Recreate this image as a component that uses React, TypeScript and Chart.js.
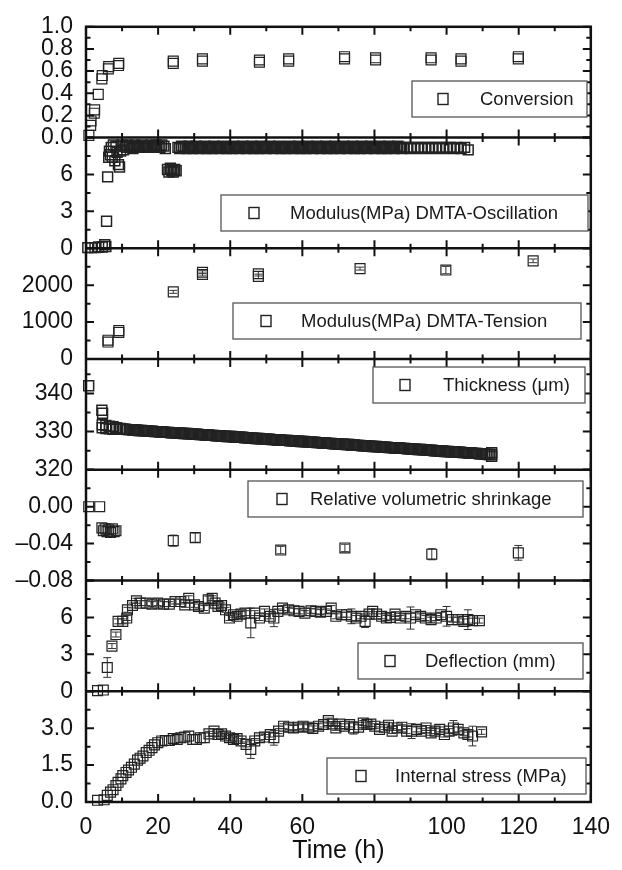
import React, { useEffect, useRef } from 'react';
import { Chart, registerables } from 'chart.js';

Chart.register(...registerables);

const FONT = '"Liberation Sans", Arial, Helvetica, sans-serif';

// ---------- shared x axis ----------
const xTicks = [0, 20, 40, 60, 80, 100, 120, 140];
const xHiddenLabels = [80];

// ---------- Panel 1: Conversion ----------
const convTime = [0.8, 1.3, 1.4, 2.3, 2.4, 3.4, 4.4, 4.5, 6.2, 6.3, 9.0, 9.1, 24.2, 24.2, 32.3, 32.3, 48.1, 48.1, 56.2, 56.2, 71.7, 71.7, 80.3, 80.3, 95.7, 95.7, 104.0, 104.0, 119.9, 119.9];
const convValue = [0.02, 0.11, 0.15, 0.22, 0.25, 0.39, 0.53, 0.56, 0.62, 0.64, 0.65, 0.67, 0.67, 0.69, 0.69, 0.71, 0.68, 0.70, 0.69, 0.71, 0.71, 0.73, 0.70, 0.72, 0.70, 0.72, 0.69, 0.71, 0.71, 0.73];
const convTicks = [0, 0.2, 0.4, 0.6, 0.8, 1.0];

// ---------- Panel 2: Modulus DMTA-Oscillation ----------
const oscEarlyTime = [0.5, 1.5, 2.5, 3.5, 4.5, 5.2, 5.5, 5.7, 6.0, 6.3, 6.5, 6.8, 7.0, 7.3, 7.6, 8.0, 8.3, 8.6, 9.0, 9.3, 9.6, 10.0, 10.4, 10.8, 11.2, 11.6, 12.0, 12.5, 13.0, 13.5, 14.0, 14.5, 15.0, 15.5, 16.0, 16.5, 17.0, 17.5, 18.0, 18.5, 19.0, 19.5, 20.0, 20.5, 21.0, 21.6, 22.0, 22.6, 23.0, 23.4, 23.8, 24.2, 24.6, 25.0];
const oscEarlyValue = [0.05, 0.05, 0.05, 0.1, 0.1, 0.3, 0.15, 2.2, 5.8, 7.4, 7.9, 7.6, 8.2, 7.4, 8.4, 7.1, 8.3, 7.8, 6.8, 6.6, 7.9, 8.4, 8.0, 8.3, 8.2, 8.4, 8.2, 8.3, 8.1, 8.4, 8.2, 8.3, 8.2, 8.4, 8.2, 8.3, 8.3, 8.2, 8.4, 8.3, 8.2, 8.4, 8.3, 8.2, 8.4, 8.3, 8.1, 6.4, 6.2, 6.5, 6.3, 6.2, 6.4, 6.3];
const oscBandTime = [
  25.5, 26, 26.5, 27, 27.5, 28, 28.5, 29, 29.5, 30, 30.5, 31, 31.5, 32, 32.5, 33, 33.5, 34, 34.5, 35,
  35.5, 36, 36.5, 37, 37.5, 38, 38.5, 39, 39.5, 40, 40.5, 41, 41.5, 42, 42.5, 43, 43.5, 44, 44.5, 45,
  45.5, 46, 46.5, 47, 47.5, 48, 48.5, 49, 49.5, 50, 50.5, 51, 51.5, 52, 52.5, 53, 53.5, 54, 54.5, 55,
  55.5, 56, 56.5, 57, 57.5, 58, 58.5, 59, 59.5, 60, 60.5, 61, 61.5, 62, 62.5, 63, 63.5, 64, 64.5, 65,
  65.5, 66, 66.5, 67, 67.5, 68, 68.5, 69, 69.5, 70, 70.5, 71, 71.5, 72, 72.5, 73, 73.5, 74, 74.5, 75,
  75.5, 76, 76.5, 77, 77.5, 78, 78.5, 79, 79.5, 80, 80.5, 81, 81.5, 82, 82.5, 83, 83.5, 84, 84.5, 85,
  85.5, 86, 86.5, 87, 87.5, 88,
  89, 90, 91, 92, 93, 94, 95, 96, 97, 98, 99, 100, 101, 102, 103, 104, 105, 106,
];
const oscBandValue = [
  8.2, 8.1, 8.3, 8.2, 8.2, 8.1, 8.3, 8.2, 8.1, 8.2, 8.3, 8.2, 8.1, 8.2, 8.2, 8.3, 8.1, 8.2, 8.2, 8.1,
  8.3, 8.2, 8.2, 8.1, 8.2, 8.3, 8.2, 8.1, 8.2, 8.2, 8.1, 8.3, 8.2, 8.2, 8.1, 8.2, 8.3, 8.2, 8.1, 8.2,
  8.2, 8.3, 8.1, 8.2, 8.2, 8.1, 8.3, 8.2, 8.2, 8.1, 8.2, 8.3, 8.2, 8.1, 8.2, 8.2, 8.3, 8.1, 8.2, 8.2,
  8.1, 8.2, 8.3, 8.2, 8.1, 8.2, 8.2, 8.3, 8.1, 8.2, 8.2, 8.1, 8.3, 8.2, 8.2, 8.1, 8.2, 8.3, 8.2, 8.1,
  8.2, 8.2, 8.3, 8.1, 8.2, 8.2, 8.1, 8.3, 8.2, 8.2, 8.1, 8.2, 8.3, 8.2, 8.1, 8.2, 8.2, 8.3, 8.1, 8.2,
  8.2, 8.1, 8.3, 8.2, 8.2, 8.1, 8.2, 8.3, 8.2, 8.1, 8.2, 8.2, 8.3, 8.1, 8.2, 8.2, 8.1, 8.3, 8.2, 8.2,
  8.1, 8.2, 8.3, 8.2, 8.1, 8.2,
  8.2, 8.1, 8.2, 8.2, 8.1, 8.2, 8.2, 8.1, 8.2, 8.2, 8.1, 8.2, 8.2, 8.1, 8.2, 8.1, 8.2, 8.0,
];
const oscTime = [...oscEarlyTime, ...oscBandTime];
const oscValue = [...oscEarlyValue, ...oscBandValue];
const oscTicks = [0, 3, 6];

// ---------- Panel 3: Modulus DMTA-Tension ----------
const tenTime = [6.1, 6.1, 9.1, 9.1, 24.2, 32.3, 32.3, 47.8, 47.8, 76.0, 99.8, 124.0];
const tenValue = [460, 510, 720, 770, 1820, 2290, 2350, 2240, 2310, 2450, 2410, 2660];
const tenErr = [0, 0, 0, 0, 40, 40, 40, 60, 60, 40, 100, 50];
const tenTicks = [0, 1000, 2000];

// ---------- Panel 4: Thickness ----------
const thickEarlyTime = [0.75, 4.4, 4.6, 4.5, 4.5, 5.5, 5.5, 6.5, 6.5, 7.5, 7.5, 8.5, 9.5, 10.0];
const thickEarlyValue = [342, 335.6, 334.8, 331.8, 331.0, 331.6, 330.8, 331.4, 330.7, 331.3, 330.6, 331.0, 330.8, 330.7];
const thickBandTime = [
  10.5, 11, 11.5, 12, 12.5, 13, 13.5, 14, 14.5, 15, 15.5, 16, 16.5, 17, 17.5, 18, 18.5, 19, 19.5, 20,
  20.5, 21, 21.5, 22, 22.5, 23, 23.5, 24, 24.5, 25, 25.5, 26, 26.5, 27, 27.5, 28, 28.5, 29, 29.5, 30,
  30.5, 31, 31.5, 32, 32.5, 33, 33.5, 34, 34.5, 35, 35.5, 36, 36.5, 37, 37.5, 38, 38.5, 39, 39.5, 40,
  40.5, 41, 41.5, 42, 42.5, 43, 43.5, 44, 44.5, 45, 45.5, 46, 46.5, 47, 47.5, 48, 48.5, 49, 49.5, 50,
  50.5, 51, 51.5, 52, 52.5, 53, 53.5, 54, 54.5, 55, 55.5, 56, 56.5, 57, 57.5, 58, 58.5, 59, 59.5, 60,
  60.5, 61, 61.5, 62, 62.5, 63, 63.5, 64, 64.5, 65, 65.5, 66, 66.5, 67, 67.5, 68, 68.5, 69, 69.5, 70,
  70.5, 71, 71.5, 72, 72.5, 73, 73.5, 74, 74.5, 75, 75.5, 76, 76.5, 77, 77.5, 78, 78.5, 79, 79.5, 80,
  80.5, 81, 81.5, 82, 82.5, 83, 83.5, 84, 84.5, 85, 85.5, 86, 86.5, 87, 87.5, 88, 88.5, 89, 89.5, 90,
  90.5, 91, 91.5, 92, 92.5, 93, 93.5, 94, 94.5, 95, 95.5, 96, 96.5, 97, 97.5, 98, 98.5, 99, 99.5, 100,
  100.5, 101, 101.5, 102, 102.5, 103, 103.5, 104, 104.5, 105, 105.5, 106, 106.5, 107, 107.5, 108, 108.5, 109, 109.5, 110,
  110.5, 111, 111.5, 112, 112.5, 112.5, 112.5,
];
const thickBandValue = [
  330.6, 330.6,
  330.5, 330.5, 330.5, 330.4, 330.4, 330.4, 330.3, 330.3, 330.3, 330.2, 330.2, 330.2, 330.1, 330.1, 330.1, 330.0, 330.0, 330.0,
  329.9, 329.9, 329.9, 329.8, 329.8, 329.8, 329.7, 329.7, 329.7, 329.7,
  329.6, 329.6, 329.6, 329.5, 329.5, 329.5, 329.4, 329.4, 329.4, 329.3, 329.3, 329.3, 329.2, 329.2, 329.2, 329.1, 329.1, 329.1,
  329.0, 329.0, 329.0, 328.9, 328.9, 328.9, 328.8, 328.8, 328.8, 328.7, 328.7, 328.7, 328.7,
  328.6, 328.6, 328.6, 328.5, 328.5, 328.5, 328.4, 328.4, 328.4, 328.3, 328.3, 328.3, 328.2, 328.2, 328.2, 328.1, 328.1, 328.1,
  328.0, 328.0, 328.0, 327.9, 327.9, 327.9, 327.8, 327.8, 327.8, 327.7, 327.7, 327.7, 327.7,
  327.6, 327.6, 327.6, 327.5, 327.5, 327.5, 327.4, 327.4, 327.4, 327.3, 327.3, 327.3, 327.2, 327.2, 327.2, 327.1, 327.1, 327.1,
  327.0, 327.0, 327.0, 326.9, 326.9, 326.9, 326.8, 326.8, 326.8, 326.7, 326.7, 326.7, 326.7,
  326.6, 326.6, 326.6, 326.5, 326.5, 326.5, 326.4, 326.4, 326.4, 326.3, 326.3, 326.3, 326.2, 326.2, 326.2, 326.1, 326.1, 326.1,
  326.0, 326.0, 326.0, 325.9, 325.9, 325.9, 325.8, 325.8, 325.8, 325.7, 325.7, 325.7, 325.7,
  325.6, 325.6, 325.6, 325.5, 325.5, 325.5, 325.4, 325.4, 325.4, 325.3, 325.3, 325.3, 325.2, 325.2, 325.2, 325.1, 325.1, 325.1,
  325.0, 325.0, 325.0, 324.9, 324.9, 324.9, 324.8, 324.8, 324.8, 324.7, 324.7, 324.7, 324.7,
  324.6, 324.6, 324.6, 324.5, 324.5, 324.5, 324.4, 324.4, 324.4, 324.3, 324.3, 324.3, 324.2, 324.2, 324.2,
  324.1, 324.1, 324.0, 324.0, 324.0, 323.5, 324.5,
];
const thickTime = [...thickEarlyTime, ...thickBandTime];
const thickValue = [...thickEarlyValue, ...thickBandValue];
const thickTicks = [320, 330, 340];

// ---------- Panel 5: Relative volumetric shrinkage ----------
const shrTime = [0.75, 3.8, 4.4, 4.8, 5.3, 5.8, 6.3, 6.8, 7.3, 7.8, 8.3, 24.2, 30.3, 54.0, 71.8, 95.9, 119.9];
const shrValue = [0.0, 0.0, -0.023, -0.026, -0.024, -0.027, -0.025, -0.028, -0.024, -0.027, -0.026, -0.0368, -0.0335, -0.047, -0.0447, -0.0515, -0.05];
const shrErr = [0, 0, 0, 0, 0, 0, 0, 0, 0, 0, 0, 0.006, 0.005, 0.004, 0.004, 0.006, 0.008];
const shrTicks = [-0.08, -0.04, 0.0];

// ---------- Panel 6: Deflection ----------
const defTime = [3.2, 4.8, 5.9, 7.2, 8.3, 8.9, 10.2, 11.3, 11.5, 12.9, 14.0, 15.0, 16.7, 18.3, 19.9, 21.5, 23.1, 24.7, 26.3, 27.4, 28.5, 30.1, 31.2, 32.8, 33.9, 35.0, 35.8, 36.6, 37.6, 38.7, 39.8, 40.9, 41.9, 43.0, 44.1, 45.7, 46.8, 48.1, 49.5, 51.1, 52.1, 53.2, 54.5, 56.2, 57.7, 59.1, 60.7, 62.4, 63.7, 65.0, 66.7, 68.0, 69.3, 70.9, 72.3, 73.6, 74.9, 76.3, 77.4, 78.5, 79.5, 80.6, 82.0, 83.3, 84.4, 85.7, 87.1, 88.7, 90.0, 91.4, 92.8, 94.1, 95.7, 97.1, 98.4, 100.0, 101.6, 103.2, 104.8, 105.9, 107.2, 109.1];
const defValue = [0.05, 0.1, 1.93, 3.67, 4.61, 5.68, 5.68, 5.95, 6.62, 6.97, 7.35, 7.16, 7.16, 7.08, 7.16, 7.08, 7.08, 7.29, 7.29, 7.02, 7.56, 7.02, 6.89, 6.76, 7.43, 7.56, 7.16, 6.89, 6.97, 6.62, 5.95, 6.22, 6.09, 6.27, 6.35, 5.55, 6.35, 5.95, 6.49, 6.09, 5.95, 6.49, 6.76, 6.62, 6.54, 6.49, 6.35, 6.54, 6.49, 6.43, 6.49, 6.76, 6.09, 6.22, 6.22, 6.09, 5.95, 6.09, 5.68, 6.27, 6.49, 6.27, 6.09, 5.95, 6.0, 6.27, 5.95, 6.09, 5.95, 6.22, 6.09, 5.95, 5.82, 5.95, 6.22, 6.09, 5.82, 5.82, 5.68, 5.82, 5.74, 5.74];
const defErr = [0, 0, 0.8, 0.2, 0.2, 0.2, 0.2, 0.2, 0.2, 0.2, 0.2, 0.2, 0.2, 0.2, 0.2, 0.2, 0.2, 0.2, 0.2, 0.2, 0.2, 0.2, 0.2, 0.2, 0.3, 0.2, 0.2, 0.2, 0.2, 0.2, 0.2, 0.2, 0.2, 0.2, 0.2, 1.2, 0.2, 0.2, 0.2, 0.2, 0.7, 0.2, 0.2, 0.2, 0.2, 0.2, 0.2, 0.2, 0.2, 0.2, 0.2, 0.2, 0.2, 0.2, 0.2, 0.6, 0.2, 0.2, 0.5, 0.2, 0.2, 0.2, 0.2, 0.2, 0.2, 0.2, 0.2, 0.2, 0.9, 0.2, 0.2, 0.2, 0.2, 0.2, 0.2, 0.8, 0.2, 0.2, 0.2, 0.8, 0.2, 0.2];
const defTicks = [0, 3, 6];

// ---------- Panel 7: Internal stress ----------
const strTime = [3.2, 5.0, 5.9, 6.8, 7.5, 8.3, 8.9, 9.7, 10.2, 11.1, 11.8, 12.6, 13.4, 14.3, 15.0, 15.8, 16.7, 17.5, 18.3, 19.0, 19.9, 21.0, 22.0, 23.1, 24.2, 25.3, 26.3, 27.4, 28.5, 29.6, 30.6, 31.7, 32.8, 34.1, 35.5, 36.6, 37.6, 38.7, 39.8, 40.9, 41.9, 43.0, 44.4, 45.7, 46.8, 48.1, 49.5, 51.1, 52.1, 53.4, 54.8, 56.2, 57.5, 58.8, 60.2, 61.8, 62.9, 64.5, 65.9, 67.2, 68.3, 69.3, 70.4, 71.7, 73.1, 74.2, 75.6, 76.9, 77.9, 79.0, 80.1, 81.4, 82.8, 83.9, 84.9, 86.3, 87.6, 88.9, 90.3, 91.7, 93.0, 94.3, 95.7, 96.8, 98.1, 99.4, 100.7, 101.9, 103.2, 104.8, 105.9, 107.2, 109.7];
const strValue = [0.07, 0.09, 0.27, 0.4, 0.5, 0.67, 0.8, 0.94, 1.07, 1.2, 1.3, 1.41, 1.54, 1.7, 1.78, 1.87, 2.01, 2.1, 2.21, 2.32, 2.41, 2.48, 2.5, 2.5, 2.58, 2.54, 2.61, 2.64, 2.68, 2.54, 2.54, 2.61, 2.61, 2.77, 2.88, 2.74, 2.77, 2.68, 2.61, 2.54, 2.58, 2.48, 2.34, 2.14, 2.48, 2.61, 2.64, 2.74, 2.61, 2.88, 3.08, 3.04, 3.01, 3.04, 3.08, 3.04, 2.99, 3.08, 3.15, 3.31, 3.17, 3.01, 3.17, 3.08, 3.15, 3.01, 3.04, 3.21, 3.15, 3.17, 3.08, 2.95, 3.04, 3.12, 2.88, 3.01, 3.04, 2.88, 2.88, 2.95, 2.88, 3.01, 2.81, 2.88, 2.95, 2.74, 2.88, 3.01, 2.95, 2.81, 2.74, 2.68, 2.85];
const strErr = [0, 0, 0, 0, 0, 0, 0, 0, 0, 0, 0, 0, 0, 0, 0, 0, 0, 0, 0, 0, 0, 0, 0, 0, 0, 0, 0, 0, 0, 0, 0, 0, 0, 0.1, 0.1, 0.1, 0.1, 0.1, 0.1, 0.1, 0.1, 0.1, 0.1, 0.37, 0.1, 0.1, 0.1, 0.1, 0.3, 0.1, 0.1, 0.1, 0.1, 0.1, 0.1, 0.1, 0.1, 0.1, 0.1, 0.1, 0.1, 0.1, 0.1, 0.1, 0.1, 0.25, 0.1, 0.1, 0.1, 0.1, 0.1, 0.1, 0.1, 0.1, 0.1, 0.1, 0.1, 0.1, 0.3, 0.1, 0.1, 0.1, 0.1, 0.1, 0.1, 0.1, 0.1, 0.3, 0.1, 0.1, 0.1, 0.4, 0.1];
const strTicks = [0, 1.5, 3.0];

// ---------- panel definitions (top to bottom) ----------
type Panel = {
  id: string; label: string; x: number[]; y: number[]; err: number[] | null;
  min: number; max: number; ticks: number[]; step: number; digits: number;
};

const panels: Panel[] = [
  { id: 'y1', label: 'Conversion', x: convTime, y: convValue, err: null, min: 0, max: 1, ticks: convTicks, step: 0.2, digits: 1 },
  { id: 'y2', label: 'Modulus(MPa) DMTA-Oscillation', x: oscTime, y: oscValue, err: null, min: 0, max: 9, ticks: oscTicks, step: 3, digits: 0 },
  { id: 'y3', label: 'Modulus(MPa) DMTA-Tension', x: tenTime, y: tenValue, err: tenErr, min: 0, max: 3000, ticks: tenTicks, step: 1000, digits: 0 },
  { id: 'y4', label: 'Thickness (\u03bcm)', x: thickTime, y: thickValue, err: null, min: 320, max: 349, ticks: thickTicks, step: 10, digits: 0 },
  { id: 'y5', label: 'Relative volumetric shrinkage', x: shrTime, y: shrValue, err: shrErr, min: -0.08, max: 0.04, ticks: shrTicks, step: 0.04, digits: 2 },
  { id: 'y6', label: 'Deflection (mm)', x: defTime, y: defValue, err: defErr, min: 0, max: 9, ticks: defTicks, step: 3, digits: 0 },
  { id: 'y7', label: 'Internal stress (MPa)', x: strTime, y: strValue, err: strErr, min: 0, max: 4.5, ticks: strTicks, step: 1.5, digits: 1 },
];

// marker outline width per panel (dense series look heavier)
const markerWidth: Record<string, number> = { y1: 1.2, y2: 1.5, y3: 1.2, y4: 1.5, y5: 1.2, y6: 1.2, y7: 1.2 };

// legend box layout (pixels): left, right, top, bottom, marker centre x, text start x
const legendLayout: Record<string, number[]> = {
  y1: [412, 587, 81, 117, 443, 480],
  y2: [221, 588, 195, 231, 254, 290],
  y3: [233, 581, 303, 339, 266, 301],
  y4: [373, 585, 367, 403, 405, 443],
  y5: [248, 583, 481, 517, 282, 310],
  y6: [358, 583, 643, 679, 390, 425],
  y7: [327, 586, 758, 794, 361, 395],
};

const fmt = (v: number, d: number) => {
  const s = Math.abs(v).toFixed(d);
  return v < -1e-9 ? '\u2013' + s : s;
};

const framePlugin = {
  id: 'panelFrames',
  beforeDatasetsDraw(chart: any) {
    const ctx = chart.ctx;
    const xs = chart.scales.x;
    ctx.save();
    ctx.strokeStyle = '#333';
    ctx.lineWidth = 1;
    panels.forEach((p) => {
      if (!p.err) return;
      const ys = chart.scales[p.id];
      p.x.forEach((t, k) => {
        const e = p.err![k];
        if (!e) return;
        const px = xs.getPixelForValue(t);
        const top = ys.getPixelForValue(p.y[k] + e);
        const bot = ys.getPixelForValue(p.y[k] - e);
        ctx.beginPath();
        ctx.moveTo(px, top); ctx.lineTo(px, bot);
        ctx.moveTo(px - 4, top); ctx.lineTo(px + 4, top);
        ctx.moveTo(px - 4, bot); ctx.lineTo(px + 4, bot);
        ctx.stroke();
      });
    });
    ctx.restore();
  },
  afterDatasetsDraw(chart: any) {
    const ctx = chart.ctx;
    const xs = chart.scales.x;
    const area = chart.chartArea;
    ctx.save();
    ctx.strokeStyle = '#111';
    ctx.lineWidth = 2;
    panels.forEach((p) => {
      const ys = chart.scales[p.id];
      const top = ys.top, bottom = ys.bottom;
      ctx.beginPath();
      const n = Math.round((p.max - p.min) / (p.step / 2));
      for (let i = 0; i <= n; i++) {
        const v = p.min + (i * p.step) / 2;
        if (v > p.max + 1e-9) break;
        const py = ys.getPixelForValue(v);
        const len = i % 2 === 0 ? 8 : 4.5;
        ctx.moveTo(area.left, py); ctx.lineTo(area.left + len, py);
        ctx.moveTo(area.right, py); ctx.lineTo(area.right - len, py);
      }
      for (let v = 0; v <= 140; v += 10) {
        const px = xs.getPixelForValue(v);
        const len = v % 20 === 0 ? 8 : 4.5;
        ctx.moveTo(px, top); ctx.lineTo(px, top + len);
        ctx.moveTo(px, bottom); ctx.lineTo(px, bottom - len);
      }
      ctx.stroke();
    });
    ctx.lineWidth = 2.5;
    ctx.strokeRect(area.left, area.top, area.right - area.left, area.bottom - area.top);
    panels.forEach((p, i) => {
      if (i === panels.length - 1) return;
      const ys = chart.scales[p.id];
      ctx.beginPath();
      ctx.moveTo(area.left, ys.bottom);
      ctx.lineTo(area.right, ys.bottom);
      ctx.stroke();
    });
    panels.forEach((p) => {
      const [l, r, t, b, mx, tx] = legendLayout[p.id];
      const cy = (t + b) / 2;
      ctx.fillStyle = '#fff';
      ctx.fillRect(l, t, r - l, b - t);
      ctx.strokeStyle = '#555';
      ctx.lineWidth = 1.3;
      ctx.strokeRect(l, t, r - l, b - t);
      ctx.strokeStyle = '#222';
      ctx.lineWidth = 1.4;
      ctx.strokeRect(mx - 5, cy - 5.5, 10, 11);
      ctx.fillStyle = '#1a1a1a';
      ctx.font = `18.5px ${FONT}`;
      ctx.textBaseline = 'middle';
      ctx.textAlign = 'left';
      ctx.fillText(p.label, tx, cy + 1);
    });
    ctx.restore();
  },
};

export default function App() {
  const ref = useRef<HTMLCanvasElement>(null);
  useEffect(() => {
    const canvas = ref.current;
    if (!canvas) return;
    const datasets = panels.map((p) => ({
      label: p.label,
      data: p.x.map((t, k) => ({ x: t, y: p.y[k] })),
      xAxisID: 'x',
      yAxisID: p.id,
      showLine: false,
      pointStyle: 'rect' as const,
      pointRadius: 7,
      pointHoverRadius: 7,
      pointBorderWidth: markerWidth[p.id],
      pointBorderColor: '#222',
      pointBackgroundColor: 'rgba(255,255,255,0)',
      clip: false as any,
    }));
    const scales: any = {
      x: {
        type: 'linear',
        position: 'bottom',
        min: 0,
        max: 140,
        afterBuildTicks: (s: any) => { s.ticks = xTicks.map((v) => ({ value: v })); },
        afterFit: (s: any) => { s.height = 68; },
        grid: { display: false, drawTicks: false },
        border: { display: false },
        ticks: {
          color: '#111',
          font: { family: FONT, size: 23 },
          padding: 12,
          autoSkip: false,
          maxRotation: 0,
          callback: (v: any) => (xHiddenLabels.includes(Number(v)) ? '' : String(v)),
        },
        title: {
          display: true,
          text: 'Time (h)',
          color: '#111',
          font: { family: FONT, size: 25 },
          padding: { top: 0, bottom: 4 },
        },
      },
    };
    [...panels].reverse().forEach((p) => {
      scales[p.id] = {
        type: 'linear',
        position: 'left',
        stack: 'panels',
        stackWeight: 1,
        min: p.min,
        max: p.max,
        afterBuildTicks: (s: any) => { s.ticks = p.ticks.map((v) => ({ value: v })); },
        afterFit: (s: any) => { s.width = 86; },
        grid: { display: false, drawTicks: false },
        border: { display: false },
        ticks: {
          color: '#111',
          font: { family: FONT, size: 23 },
          padding: 13,
          autoSkip: false,
          callback: (v: any) => fmt(Number(v), p.digits),
        },
      };
    });
    const chart = new Chart(canvas, {
      type: 'scatter',
      data: { datasets },
      options: {
        responsive: false,
        animation: false,
        devicePixelRatio: 1,
        layout: { padding: { left: 0, right: 21, top: 23, bottom: 0 } },
        plugins: { legend: { display: false }, tooltip: { enabled: false } },
        scales,
      },
      plugins: [framePlugin],
    });
    return () => chart.destroy();
  }, []);
  return (
    <div style={{ position: 'absolute', left: 0, top: 0, width: 622, height: 870, background: '#fff' }}>
      <canvas ref={ref} width={622} height={870} style={{ display: 'block' }} />
    </div>
  );
}
